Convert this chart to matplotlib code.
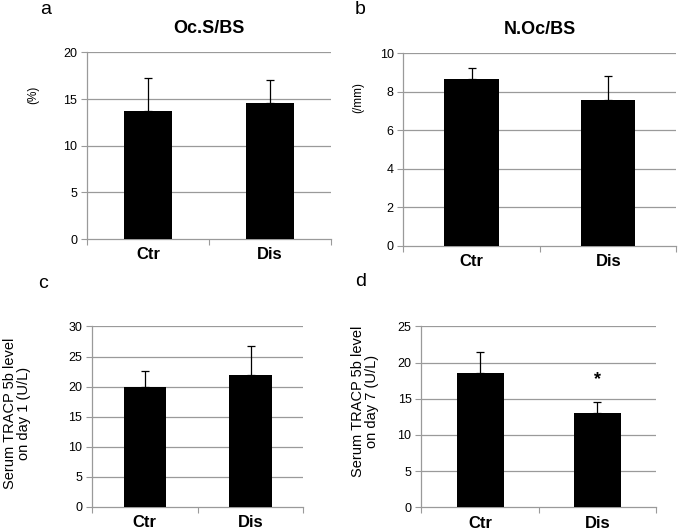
import matplotlib
matplotlib.use("Agg")
import matplotlib.pyplot as plt

plt.rcParams['font.family'] = ['Liberation Sans', 'DejaVu Sans']

groups = ["Ctr", "Dis"]

ocs_bs = [13.7, 14.6]
ocs_bs_err = [3.6, 2.4]

noc_bs = [8.65, 7.55]
noc_bs_err = [0.55, 1.25]

tracp_day1 = [20.0, 22.0]
tracp_day1_err = [2.6, 4.8]

tracp_day7 = [18.6, 13.0]
tracp_day7_err = [2.9, 1.6]

panels = [
    dict(letter="a", title="Oc.S/BS", ylabel="(%)", vals=ocs_bs, errs=ocs_bs_err,
         ymax=20, step=5, rect=[0.127, 0.549, 0.356, 0.352],
         lab_fs=8.5, lab_xy=(-0.221, 0.771)),
    dict(letter="b", title="N.Oc/BS", ylabel="(/mm)", vals=noc_bs, errs=noc_bs_err,
         ymax=10, step=2, rect=[0.589, 0.536, 0.3985, 0.364],
         lab_fs=8.5, lab_xy=(-0.167, 0.768)),
    dict(letter="c", title=None, ylabel="Serum TRACP 5b level\non day 1 (U/L)",
         vals=tracp_day1, errs=tracp_day1_err,
         ymax=30, step=5, rect=[0.134, 0.044, 0.309, 0.340],
         lab_fs=10.5, lab_xy=(-0.354, 0.518)),
    dict(letter="d", title=None, ylabel="Serum TRACP 5b level\non day 7 (U/L)",
         vals=tracp_day7, errs=tracp_day7_err,
         ymax=25, step=5, rect=[0.615, 0.043, 0.343, 0.341],
         lab_fs=10.5, lab_xy=(-0.239, 0.586)),
]

grid_col = "#9a9a9a"

fig = plt.figure(figsize=(6.85, 5.3), dpi=100)

for p in panels:
    ax = fig.add_axes(p["rect"])
    x = [0.5, 1.5]
    ax.bar(x, p["vals"], width=0.4, color="black", zorder=3)
    ax.errorbar(x, p["vals"], yerr=[[0, 0], p["errs"]], fmt="none",
                ecolor="black", elinewidth=0.9, capsize=3, capthick=0.9, zorder=4)
    ax.set_xlim(0, 2)
    ax.set_ylim(0, p["ymax"])
    ticks = list(range(0, p["ymax"] + 1, p["step"]))
    ax.set_yticks(ticks)
    for t in ticks[1:]:
        ax.axhline(t, color=grid_col, lw=0.9, zorder=1)
    ax.set_xticks([0, 1, 2])
    ax.set_xticklabels([])
    ax.set_xticks(x, minor=True)
    ax.set_xticklabels(groups, minor=True, fontsize=12, fontweight="bold")
    ax.tick_params(axis="x", which="minor", length=0, pad=6)
    ax.tick_params(axis="x", which="major", length=4, color=grid_col, direction="out")
    ax.tick_params(axis="y", length=4, color=grid_col, labelsize=9, pad=3)
    for s in ["top", "right"]:
        ax.spines[s].set_visible(False)
    for s in ["left", "bottom"]:
        ax.spines[s].set_color(grid_col)
        ax.spines[s].set_linewidth(0.9)
    ax.set_ylabel(p["ylabel"], fontsize=p["lab_fs"], linespacing=1.05)
    ax.yaxis.set_label_coords(*p["lab_xy"])
    ax.yaxis.label.set_va("center")
    if p["title"]:
        ax.set_title(p["title"], fontsize=13, fontweight="bold", pad=14)

# significance marker on panel d
fig.axes[3].text(1.5, 17.6, "*", ha="center", va="center", fontsize=13, fontweight="bold")

# panel letters
fig.text(46 / 685, 1 - 10 / 530, "a", fontsize=14, ha="center", va="center")
fig.text(360 / 685, 1 - 10 / 530, "b", fontsize=14, ha="center", va="center")
fig.text(43 / 685, 1 - 283 / 530, "c", fontsize=14, ha="center", va="center")
fig.text(361 / 685, 1 - 281 / 530, "d", fontsize=14, ha="center", va="center")

fig.savefig("out.png", dpi=100)
